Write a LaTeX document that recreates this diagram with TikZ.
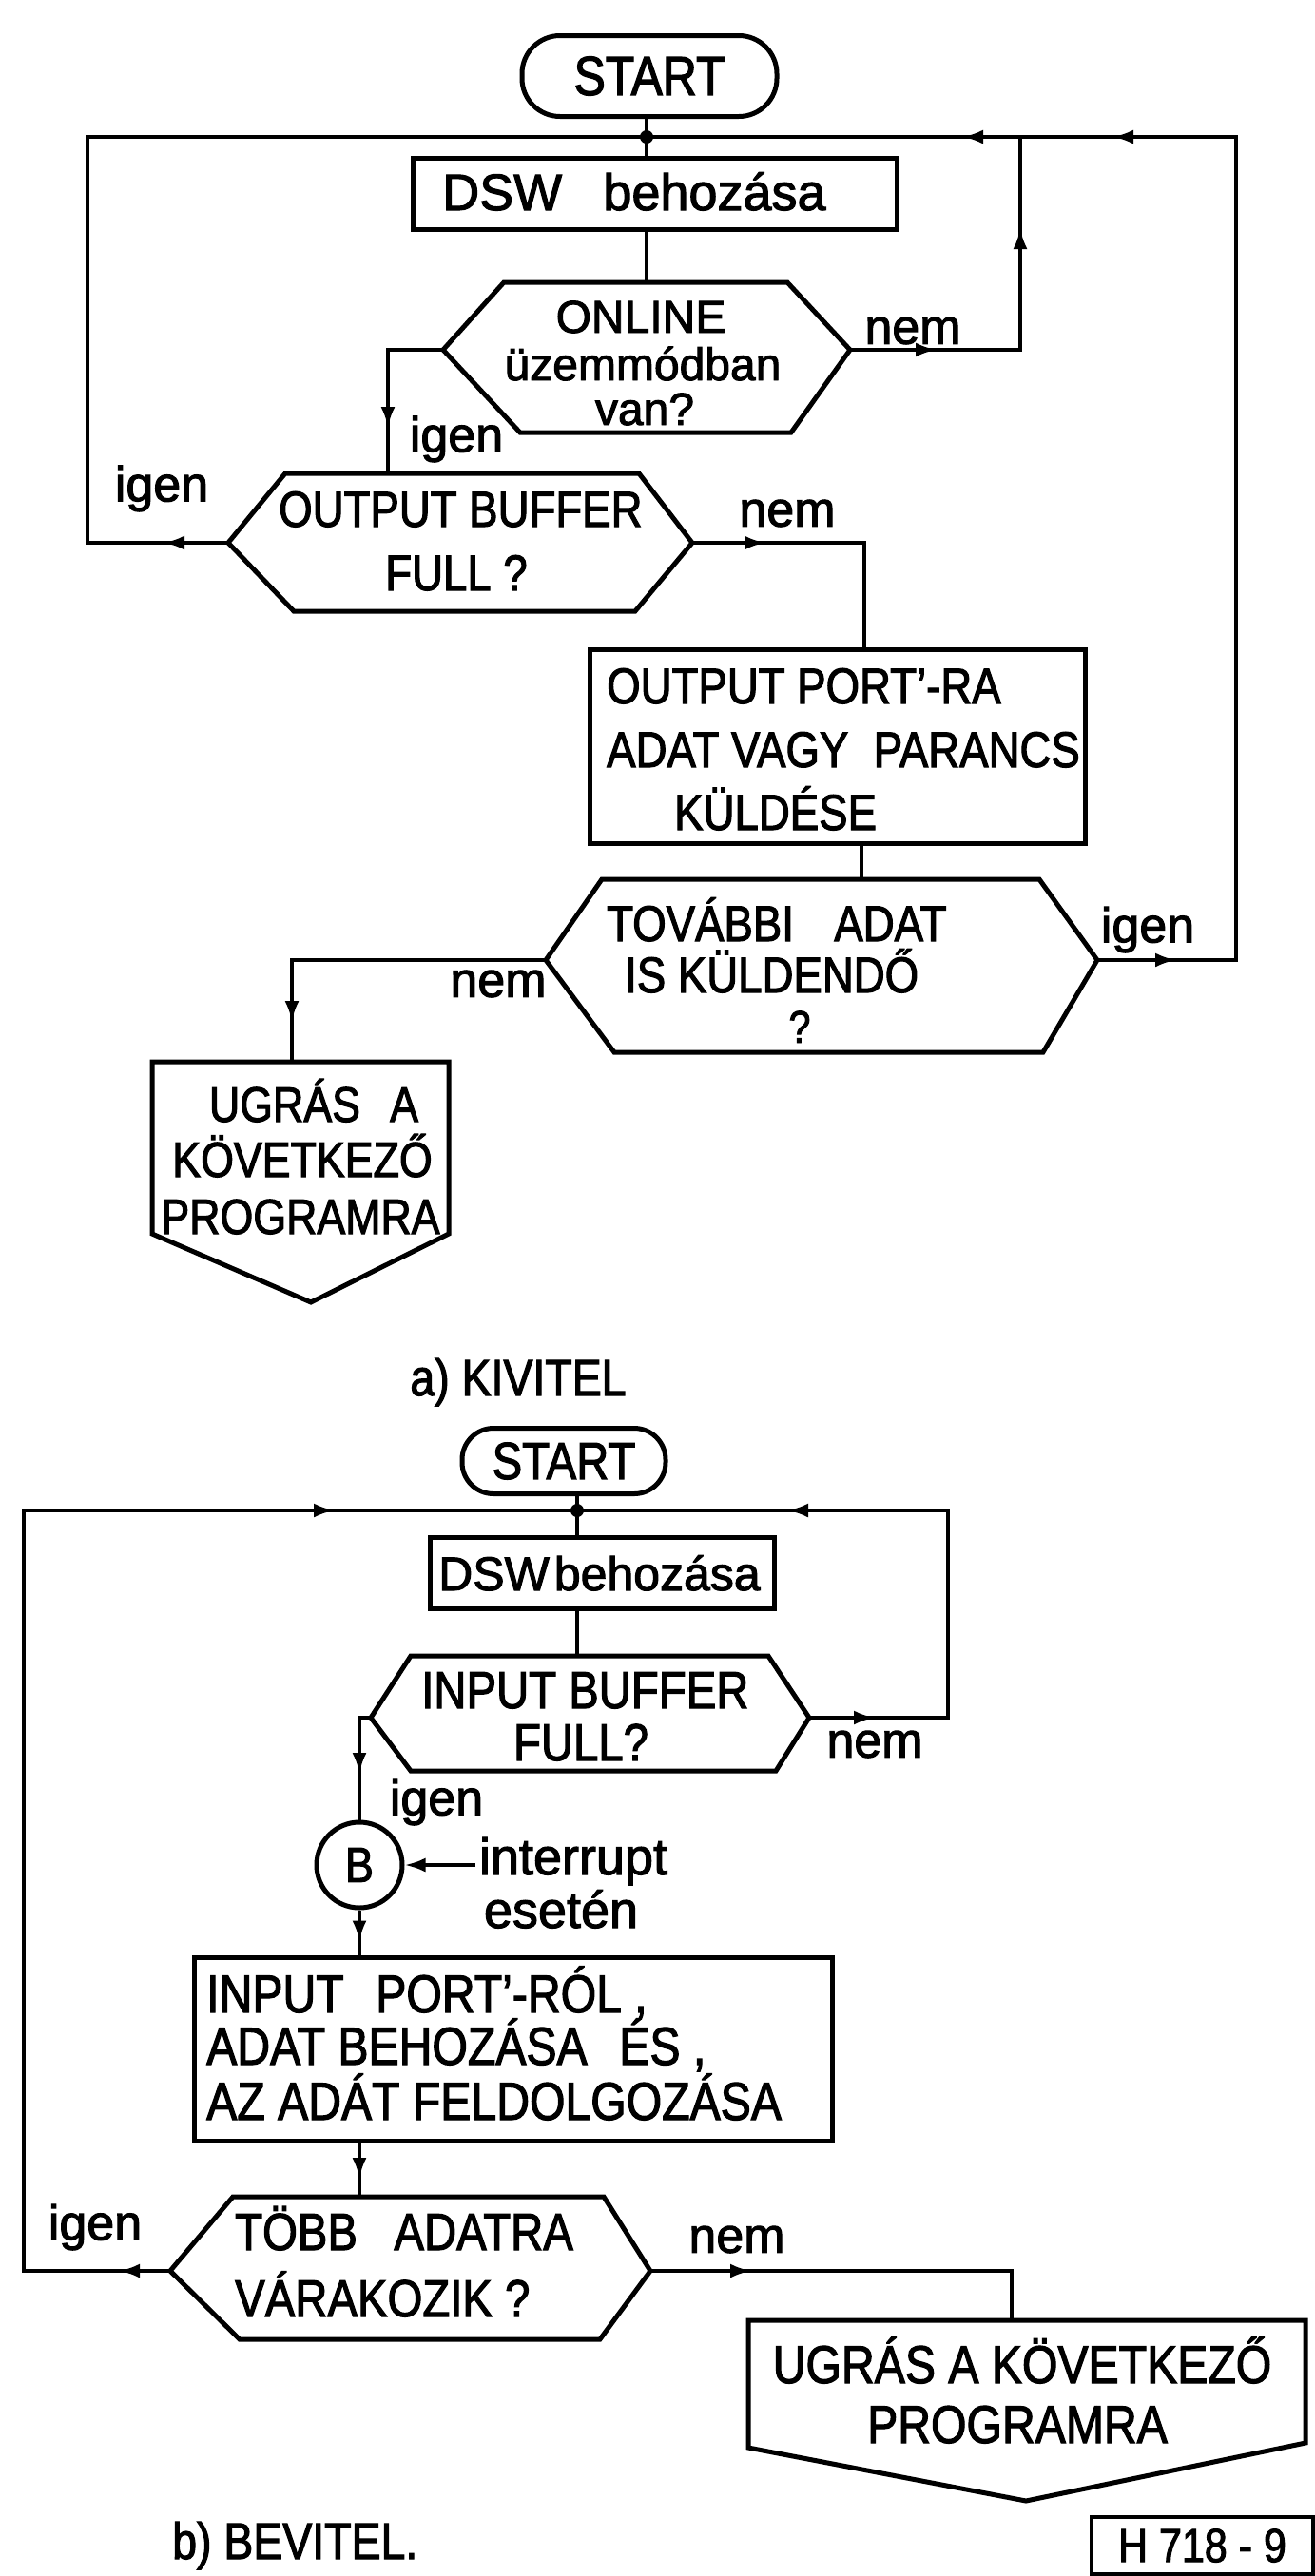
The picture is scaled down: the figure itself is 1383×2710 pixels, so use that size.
\documentclass[tikz,border=0pt]{standalone}
\usepackage{fontspec}
\setmainfont{Liberation Sans}[FakeStretch=0.86,FakeBold=2]
\newfontfamily\lcf{Liberation Sans}[FakeStretch=1.0,FakeBold=2]
\usetikzlibrary{arrows.meta,decorations.markings}
\newcommand{\fsz}[1]{\fontsize{#1}{#1}\selectfont}
\tikzset{
  shp/.style={line width=5pt, line join=miter},
  con/.style={line width=3.8pt, line join=miter},
  arr/.style={postaction={decorate, decoration={markings,
      mark=at position #1 with {\arrow{Latex[length=22pt,width=15pt]}}}}},
  tx/.style={inner sep=0pt, anchor=base},
  txl/.style={inner sep=0pt, anchor=base west},
  lbl/.style={inner sep=0pt, anchor=center, font=\lcf\fsz{52}},
}
\begin{document}
\begin{tikzpicture}[x=1pt,y=-1pt]
\useasboundingbox (0,0) rectangle (1383,2710);

% ================= a) KIVITEL =================
\node[shp, draw, rounded corners=40pt, minimum width=268pt, minimum height=85pt,
      inner sep=0pt, font=\fsz{58}] (startA) at (683,80) {START};
\coordinate (J1) at (680,144);
\coordinate (startAout) at (680,122);
\node[shp, draw, minimum width=509pt, minimum height=75pt, inner sep=0pt] (dswA) at (688.5,203.5) {};
\coordinate (dswAin) at (680,166);
\coordinate (dswAout) at (680,241);
\node[txl, font=\lcf\fsz{54}] (dswAt) at (465,221) {DSW\hspace{0.8em}behozása};

% ONLINE hexagon
\coordinate (onL) at (466,368);
\coordinate (onR) at (894,368);
\coordinate (onTop) at (680,297);
\draw[shp] (530,297) -- (828,297) -- (onR) -- (832,455) -- (547,455) -- (onL) -- cycle;
\node[tx, font=\lcf\fsz{48}] (on1) at (674,350) {ONLINE};
\node[tx, font=\lcf\fsz{48}] (on2) at (676,400) {üzemmódban};
\node[tx, font=\lcf\fsz{48}] (on3) at (678,447) {van?};

% OUTPUT BUFFER hexagon
\coordinate (obL) at (240,571);
\coordinate (obR) at (728,571);
\coordinate (obTop) at (408,498);
\draw[shp] (300,498) -- (672,498) -- (obR) -- (668,643) -- (309,643) -- (obL) -- cycle;
\node[txl, font=\fsz{53}] (ob1) at (293,554) {OUTPUT BUFFER};
\node[tx, font=\fsz{53}] (ob2) at (480,621) {FULL ?};

% OUTPUT PORT box
\node[shp, draw, minimum width=521pt, minimum height=204pt, inner sep=0pt] (opBox) at (880.5,785) {};
\coordinate (opIn) at (909,683);
\coordinate (opOut) at (906,887);
\node[txl, font=\fsz{53}] (op1) at (638,740) {OUTPUT PORT'-RA};
\node[txl, font=\fsz{53}] (op2) at (638,807) {ADAT VAGY\hspace{0.5em}PARANCS};
\node[txl, font=\fsz{53}] (op3) at (709,873) {KÜLDÉSE};

% TOVABBI hexagon
\coordinate (tvL) at (574,1010);
\coordinate (tvR) at (1154,1010);
\coordinate (tvTop) at (906,925);
\draw[shp] (633,925) -- (1093,925) -- (tvR) -- (1097,1107) -- (646,1107) -- (tvL) -- cycle;
\node[txl, font=\fsz{53}] (tv1) at (638,990) {TOVÁBBI\hspace{0.8em}ADAT};
\node[txl, font=\fsz{53}] (tv2) at (657,1044) {IS KÜLDENDŐ};
\node[tx, font=\fsz{48}] (tv3) at (841,1097) {?};

% UGRAS (a) off-page connector
\coordinate (uaTop) at (307,1117);
\draw[shp] (160,1117) -- (472,1117) -- (472,1298) -- (327,1370) -- (160,1298) -- cycle;
\node[tx, font=\fsz{52}] (ua1) at (330,1180) {UGRÁS\hspace{0.6em}A};
\node[tx, font=\fsz{52}] (ua2) at (318,1238) {KÖVETKEZŐ};
\node[tx, font=\fsz{52}] (ua3) at (316,1298) {PROGRAMRA};

\node[tx, font=\fsz{54}] (capA) at (545,1468) {a) KIVITEL};

% connectors a)
\draw[con] (startAout) -- (J1) -- (dswAin);
\fill (J1) circle (7pt);
\draw[con] (dswAout) -- (onTop);
\draw[con, arr=140pt] (onL) -- (408,368) -- (obTop);
\draw[con, arr=91pt, arr=307pt, arr=464pt] (onR) -- (1073,368) -- (1073,144) -- (J1);
\draw[con, arr=83pt, arr=1142pt] (tvR) -- (1300,1010) -- (1300,144) -- (1073,144);
\draw[con, arr=68pt] (obL) -- (92,571) -- (92,144) -- (J1);
\draw[con, arr=77pt] (obR) -- (909,571) -- (opIn);
\draw[con] (opOut) -- (tvTop);
\draw[con, arr=332pt] (tvL) -- (307,1010) -- (uaTop);

\node[lbl] (igA1) at (480,462) {igen};
\node[lbl] (nmA1) at (960,348) {nem};
\node[lbl] (igA2) at (170,514) {igen};
\node[lbl] (nmA2) at (828,540) {nem};
\node[lbl] (igA3) at (1207,978) {igen};
\node[lbl] (nmA3) at (524,1035) {nem};

% ================= b) BEVITEL =================
\node[shp, draw, rounded corners=33pt, minimum width=214pt, minimum height=69pt,
      inner sep=0pt, font=\fsz{55}] (startB) at (593,1537) {START};
\coordinate (J2) at (607,1589);
\coordinate (startBout) at (607,1571);
\node[shp, draw, minimum width=362pt, minimum height=75pt, inner sep=0pt] (dswB) at (633,1654.5) {};
\coordinate (dswBin) at (607,1617);
\coordinate (dswBout) at (607,1692);
\node[txl, font=\lcf\fsz{50}] (dswBt) at (461,1673) {DSW\hspace{0.1em}behozása};

% INPUT BUFFER hexagon
\coordinate (ibL) at (390,1807);
\coordinate (ibR) at (851,1807);
\coordinate (ibTop) at (607,1742);
\draw[shp] (432,1742) -- (808,1742) -- (ibR) -- (816,1863) -- (432,1863) -- (ibL) -- cycle;
\node[txl, font=\fsz{55}] (ib1) at (443,1797) {INPUT BUFFER};
\node[tx, font=\fsz{55}] (ib2) at (611,1852) {FULL?};

% connector B
\node[shp, draw, circle, minimum size=90pt, inner sep=0pt, font=\fsz{52}] (B) at (378,1962) {B};
\node[tx, font=\lcf\fsz{54}] (intr) at (603,1972) {interrupt};
\node[tx, font=\lcf\fsz{54}] (eset) at (590,2028) {esetén};
\coordinate (intrStart) at (500,1962);

% INPUT PORT box
\node[shp, draw, minimum width=671pt, minimum height=193pt, inner sep=0pt] (ipBox) at (539.5,2155.5) {};
\coordinate (ipIn) at (378,2059);
\coordinate (ipOut) at (378,2252);
\node[txl, font=\fsz{56}] (ip1) at (217,2117) {INPUT\hspace{0.6em}PORT'-RÓL ,};
\node[txl, font=\fsz{56}] (ip2) at (217,2172) {ADAT BEHOZÁSA\hspace{0.6em}ÉS ,};
\node[txl, font=\fsz{56}] (ip3) at (217,2230) {AZ ADÁT FELDOLGOZÁSA};

% TOBB hexagon
\coordinate (tbL) at (179,2389);
\coordinate (tbR) at (684,2389);
\coordinate (tbTop) at (378,2311);
\draw[shp] (245,2311) -- (635,2311) -- (tbR) -- (631,2461) -- (252,2461) -- (tbL) -- cycle;
\node[txl, font=\fsz{55}] (tb1) at (247,2367) {TÖBB\hspace{0.7em}ADATRA};
\node[txl, font=\fsz{55}] (tb2) at (247,2437) {VÁRAKOZIK ?};

% UGRAS (b)
\coordinate (ubTop) at (1064,2441);
\draw[shp] (787,2441) -- (1373,2441) -- (1373,2570) -- (1079,2631) -- (787,2575) -- cycle;
\node[tx, font=\fsz{56}] (ub1) at (1075,2507) {UGRÁS A KÖVETKEZŐ};
\node[tx, font=\fsz{56}] (ub2) at (1070,2570) {PROGRAMRA};

\node[txl, font=\fsz{54}] (capB) at (181,2692) {b) BEVITEL.};
\node[draw, line width=4pt, minimum width=233pt, minimum height=60pt, inner sep=0pt,
      font=\fsz{50}] (hbox) at (1264.5,2678) {H 718 - 9};

% connectors b)
\draw[con] (startBout) -- (J2) -- (dswBin);
\fill (J2) circle (7pt);
\draw[con] (dswBout) -- (ibTop);
\draw[con, arr=69pt, arr=533pt] (ibR) -- (997,1807) -- (997,1589) -- (J2);
\draw[con, arr=54pt, arr=1281pt] (tbL) -- (25,2389) -- (25,1589) -- (J2);
\draw[con, arr=71pt] (ibL) -- (378,1807) -- (B.north);
\draw[con, arr=33pt] (B.south) -- (ipIn);
\draw[con, arr=40pt] (ipOut) -- (tbTop);
\draw[con, arr=106pt] (tbR) -- (1064,2389) -- (ubTop);
\draw[con, -{Latex[length=22pt,width=15pt]}] (intrStart) -- (B.east);

\node[lbl] (nmB1) at (920,1835) {nem};
\node[lbl] (igB1) at (459,1896) {igen};
\node[lbl] (igB2) at (100,2343) {igen};
\node[lbl] (nmB2) at (775,2356) {nem};
\end{tikzpicture}
\end{document}
